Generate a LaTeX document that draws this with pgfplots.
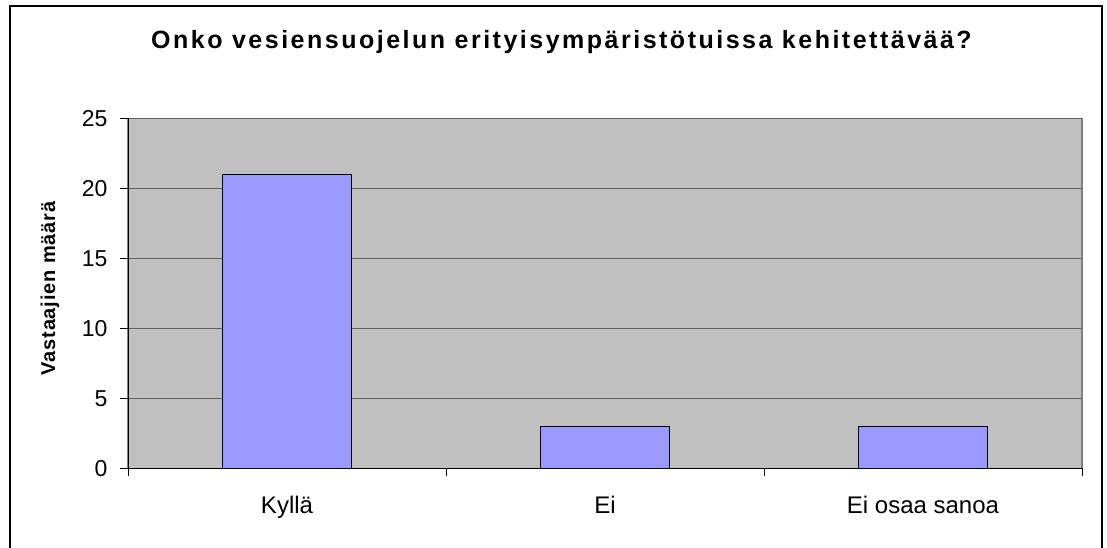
\documentclass[border=0pt]{standalone}
\usepackage{pgfplots}
\pgfplotsset{compat=1.18}
\usepackage{fontspec}
\setmainfont{Liberation Sans}
\definecolor{plotbg}{HTML}{C0C0C0}
\definecolor{plotborder}{HTML}{808080}
\definecolor{gridc}{HTML}{606060}
\definecolor{barc}{HTML}{9999FF}
\begin{document}
\begin{tikzpicture}
\useasboundingbox (0pt,0pt) rectangle (1107pt,547pt);
\draw[black, line width=1.4pt] (10pt,541pt) rectangle (1102pt,-20pt);
\node[font=\bfseries\fontsize{25}{28}\selectfont\addfontfeature{LetterSpace=10}, anchor=center] at (561.5pt,505pt) {Onko vesiensuojelun erityisympäristötuissa kehitettävää?};
\node[font=\bfseries\fontsize{20}{24}\selectfont\addfontfeature{LetterSpace=4}, rotate=90, anchor=center] at (50pt,258.5pt) {Vastaajien määrä};
\begin{axis}[
  at={(128pt,78.7pt)}, anchor=south west,
  width=954pt, height=350pt, scale only axis,
  xmin=0, xmax=3, ymin=0, ymax=25,
  axis x line*=bottom, axis y line*=left,
  axis line style={black, line width=1pt},
  axis background/.style={fill=plotbg, draw=plotborder, line width=1.5pt},
  ytick={0,5,10,15,20,25},
  ymajorgrids, major grid style={gridc, line width=1.3pt},
  tick align=outside, major tick length=8pt,
  tick style={black, line width=1pt},
  xtick={0,1,2,3}, xticklabels={},
  extra x ticks={0.5,1.5,2.5},
  extra x tick labels={Kyllä,Ei,Ei osaa sanoa},
  extra x tick style={major tick length=0pt, xticklabel style={yshift=-24pt, font=\fontsize{24}{28}\selectfont}},
  /pgf/number format/assume math mode=true,
  yticklabel style={xshift=-9pt, font=\fontsize{23}{27}\selectfont},
  clip=false,
]
\addplot[ybar, bar width=128.5pt, fill=barc, draw=black, line width=1.3pt]
  coordinates {(0.5,21) (1.5,3) (2.5,3)};
\end{axis}
\end{tikzpicture}
\end{document}
